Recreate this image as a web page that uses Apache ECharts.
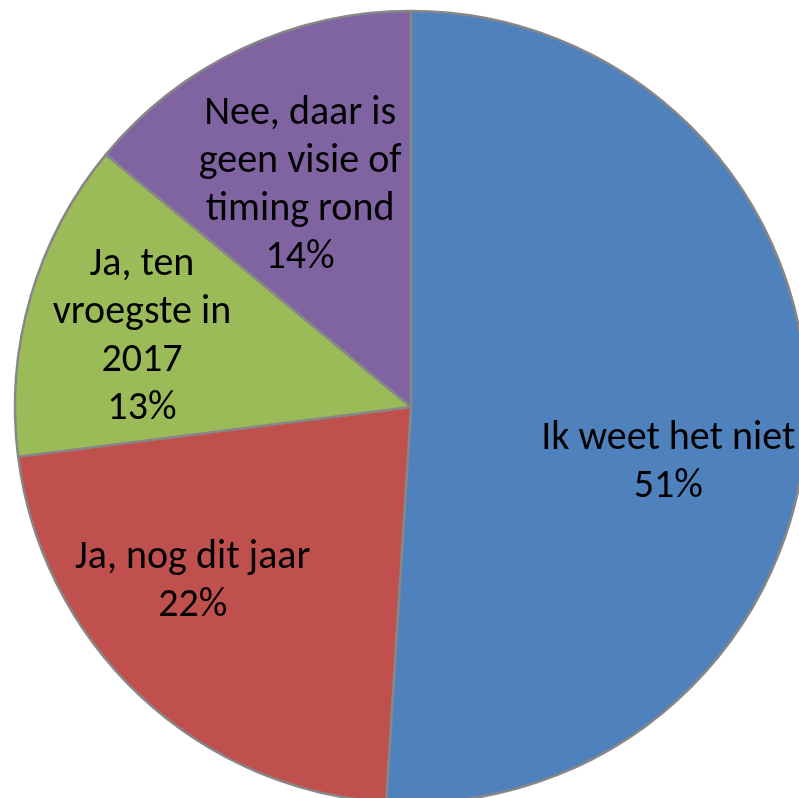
<!DOCTYPE html>
<html>
<head>
<meta charset="utf-8">
<script src="https://cdn.jsdelivr.net/npm/echarts@6/dist/echarts.min.js"></script>
<style>
html,body{margin:0;padding:0;background:#fff;}
#chart{width:799px;height:798px;}
</style>
</head>
<body>
<div id="chart"></div>
<script>
// Data
const categories = [
  "Ik weet het niet",
  "Ja, nog dit jaar",
  "Ja, ten\nvroegste in\n2017",
  "Nee, daar is\ngeen visie of\ntiming rond"
];
const values = [51, 22, 13, 14];
const colors = ["#4F81BD", "#C0504D", "#9BBB59", "#8064A2"];

// label layout tweaks (style, not data)
const labelOffsets = [[-3, 48], [-40, -15], [-19, 3], [0, 15]];

const chart = echarts.init(document.getElementById('chart'), null, {renderer: 'canvas'});

const center = [411, 407];
const R = 396;

const pieData = categories.map((c, i) => ({
  name: c,
  value: values[i],
  itemStyle: {color: colors[i]}
}));

const labelData = categories.map((c, i) => ({
  name: c,
  value: values[i],
  label: {offset: labelOffsets[i]}
}));

chart.setOption({
  animation: false,
  series: [
    {
      type: 'pie',
      center: center,
      radius: [0, R],
      startAngle: 90,
      clockwise: true,
      silent: true,
      itemStyle: {borderColor: '#878787', borderWidth: 2.5},
      label: {show: false},
      labelLine: {show: false},
      data: pieData
    },
    {
      type: 'pie',
      center: center,
      radius: [R * 0.3, R],
      startAngle: 90,
      clockwise: true,
      silent: true,
      avoidLabelOverlap: false,
      labelLayout: {hideOverlap: false},
      itemStyle: {color: 'rgba(0,0,0,0)', borderWidth: 0},
      label: {
        show: true,
        position: 'inside',
        overflow: 'none',
        formatter: p => p.name + '\n' + p.value + '%',
        fontFamily: "Carlito, 'Open Sans', sans-serif",
        fontSize: 40,
        lineHeight: 48,
        color: '#000',
        align: 'center'
      },
      labelLine: {show: false},
      data: labelData
    }
  ]
});
</script>
</body>
</html>
